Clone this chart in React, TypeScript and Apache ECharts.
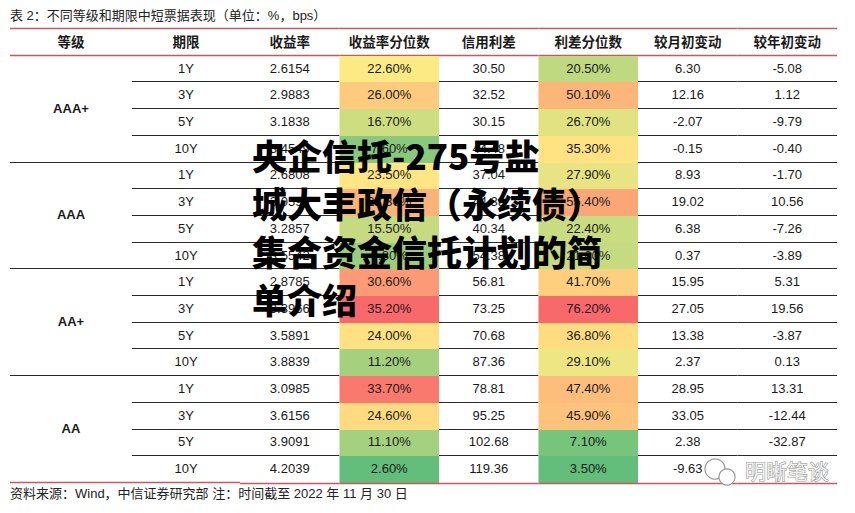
import React, { useEffect, useRef } from 'react';
import * as echarts from 'echarts';

const titleText = '表 2：不同等级和期限中短票据表现（单位：%，bps）';
const sourceText = '资料来源：Wind，中信证券研究部 注：时间截至 2022 年 11 月 30 日';
const overlayLines = ['央企信托-275号盐', '城大丰政信（永续债）', '集合资金信托计划的简', '单介绍'];
const logoText = '明晰笔谈';

const headers = ['等级', '期限', '收益率', '收益率分位数', '信用利差', '利差分位数', '较月初变动', '较年初变动'];
const ratings = ['AAA+', 'AAA', 'AA+', 'AA'];
const tenors = ['1Y', '3Y', '5Y', '10Y'];

const yields = [2.6154, 2.9883, 3.1838, 3.4549, 2.6808, 3.0599, 3.2857, 3.5542, 2.8785, 3.3966, 3.5891, 3.8839, 3.0985, 3.6156, 3.9091, 4.2039];
const yieldPct = [22.6, 26.0, 16.7, 7.6, 23.5, 28.3, 15.5, 9.8, 30.6, 35.2, 24.0, 11.2, 33.7, 24.6, 11.1, 2.6];
const spreads = [30.5, 32.52, 30.15, 44.48, 37.04, 44.33, 40.34, 54.38, 56.81, 73.25, 70.68, 87.36, 78.81, 95.25, 102.68, 119.36];
const spreadPct = [20.5, 50.1, 26.7, 35.3, 27.9, 55.4, 22.4, 21.6, 41.7, 76.2, 36.8, 29.1, 47.4, 45.9, 7.1, 3.5];
const momChange = [6.3, 12.16, -2.07, -0.15, 8.93, 19.02, 6.38, 0.37, 15.95, 27.05, 13.38, 2.37, 28.95, 33.05, 2.38, -9.63];
const ytdChange = [-5.08, 1.12, -9.79, -0.4, -1.7, 10.56, -7.26, -3.89, 5.31, 19.56, -3.87, 0.13, 13.31, -12.44, -32.87, -40.75];

const GREEN = [99, 190, 123];
const YELLOW = [255, 235, 132];
const RED = [248, 105, 107];
const LINE_RED = '#c35a5e';
const LINE_DARK = '#2a2a2a';
const TEXT = '#1a1a1a';
const FONT_NUM = "'Liberation Sans', Arial, 'Noto Sans CJK SC', sans-serif";
const FONT_CJK = "'Noto Sans CJK SC', 'Liberation Sans', sans-serif";

function median(arr: number[]) {
  const s = [...arr].sort((a, b) => a - b);
  const pos = (s.length - 1) * 0.5;
  const lo = Math.floor(pos);
  const hi = Math.ceil(pos);
  return s[lo] + (s[hi] - s[lo]) * (pos - lo);
}
function mix(a: number[], b: number[], t: number) {
  const c = a.map((v, i) => Math.round(v + (b[i] - v) * t));
  return `rgb(${c[0]},${c[1]},${c[2]})`;
}
function scaleColor(v: number, arr: number[]) {
  const min = Math.min(...arr);
  const max = Math.max(...arr);
  const mid = median(arr);
  if (v <= mid) return mix(GREEN, YELLOW, (v - min) / (mid - min));
  return mix(YELLOW, RED, (v - mid) / (max - mid));
}

const fmt = (n: number, d: number) => n.toFixed(d);
const colTexts: string[][] = [
  yields.map((v) => fmt(v, 4)),
  yieldPct.map((v) => fmt(v, 2) + '%'),
  spreads.map((v) => fmt(v, 2)),
  spreadPct.map((v) => fmt(v, 2) + '%'),
  momChange.map((v) => fmt(v, 2)),
  ytdChange.map((v) => fmt(v, 2)),
];
const colColors: (string | null)[][] = [
  yields.map(() => null),
  yieldPct.map((v) => scaleColor(v, yieldPct)),
  spreads.map(() => null),
  spreadPct.map((v) => scaleColor(v, spreadPct)),
  momChange.map(() => null),
  ytdChange.map(() => null),
];

const N_ROWS = 1 + ratings.length * tenors.length;
const rowCats = Array.from({ length: N_ROWS }, (_, i) => String(i));

function hLine(x1: number, x2: number, y: number, color: string, w = 1) {
  const yy = Math.round(y) + 0.5;
  return { type: 'line', shape: { x1, y1: yy, x2, y2: yy }, style: { stroke: color, lineWidth: w } };
}

export default function App() {
  const ref = useRef<HTMLDivElement>(null);
  useEffect(() => {
    if (!ref.current) return;
    const chart = echarts.init(ref.current, undefined, { renderer: 'svg' });
    const lastRow = N_ROWS - 1;

    const dataA: number[][] = [[0, 0, 0]];
    ratings.forEach((_, g) => dataA.push([0, 1 + g * 4, 4 + g * 4]));
    const dataB: number[][] = rowCats.map((_, r) => [0, r]);
    const dataC: number[][] = [];
    for (let c = 0; c < 6; c++) for (let r = 0; r < N_ROWS; r++) dataC.push([c, r]);

    const headerText = (text: string, x: number, y: number) => ({
      type: 'text',
      style: { text, x, y, align: 'center', verticalAlign: 'middle', fill: TEXT, font: `bold 13.5px ${FONT_CJK}` },
    });
    const cellText = (text: string, x: number, y: number, bold = false) => ({
      type: 'text',
      style: { text, x, y, align: 'center', verticalAlign: 'middle', fill: TEXT, font: `${bold ? 'bold ' : ''}13px ${FONT_NUM}` },
    });

    const option: any = {
      animation: false,
      backgroundColor: '#ffffff',
      grid: [
        { left: 10, top: 28, width: 122, height: 454 },
        { left: 132, top: 28, width: 108, height: 454 },
        { left: 240, top: 28, width: 597, height: 454 },
      ],
      xAxis: [
        { type: 'category', gridIndex: 0, data: [headers[0]], show: false },
        { type: 'category', gridIndex: 1, data: [headers[1]], show: false },
        { type: 'category', gridIndex: 2, data: headers.slice(2), show: false },
      ],
      yAxis: [0, 1, 2].map((i) => ({ type: 'category', gridIndex: i, data: rowCats, inverse: true, show: false })),
      series: [
        {
          type: 'custom',
          xAxisIndex: 0,
          yAxisIndex: 0,
          data: dataA,
          renderItem: (params: any, api: any) => {
            const r0 = api.value(1);
            const r1 = api.value(2);
            const p0 = api.coord([0, r0]);
            const p1 = api.coord([0, r1]);
            const [w, h] = api.size([1, 1]);
            const top = p0[1] - h / 2;
            const bottom = p1[1] + h / 2;
            const x0 = p0[0] - w / 2;
            const x1 = p0[0] + w / 2;
            const cy = (top + bottom) / 2;
            const children: any[] = [];
            if (r0 === 0) {
              children.push(hLine(x0, x1, top, LINE_RED, 1.3));
              children.push(hLine(x0, x1, bottom, LINE_RED, 1.3));
              children.push(headerText(headers[0], p0[0], cy));
            } else {
              children.push(hLine(x0, x1, bottom, r1 === lastRow ? LINE_RED : LINE_DARK, r1 === lastRow ? 1.3 : 1));
              children.push(cellText(ratings[(r0 - 1) / 4], p0[0], cy, true));
            }
            return { type: 'group', children };
          },
        },
        {
          type: 'custom',
          xAxisIndex: 1,
          yAxisIndex: 1,
          data: dataB,
          renderItem: (params: any, api: any) => {
            const r = api.value(1);
            const p = api.coord([0, r]);
            const [w, h] = api.size([1, 1]);
            const x0 = p[0] - w / 2;
            const x1 = p[0] + w / 2;
            const top = p[1] - h / 2;
            const bottom = p[1] + h / 2;
            const children: any[] = [];
            if (r === 0) {
              children.push(hLine(x0, x1, top, LINE_RED, 1.3));
              children.push(hLine(x0, x1, bottom, LINE_RED, 1.3));
              children.push(headerText(headers[1], p[0], p[1]));
            } else {
              children.push(hLine(x0, x1, bottom, r === lastRow ? LINE_RED : LINE_DARK, r === lastRow ? 1.3 : 1));
              children.push(cellText(tenors[(r - 1) % 4], p[0], p[1]));
            }
            return { type: 'group', children };
          },
        },
        {
          type: 'custom',
          xAxisIndex: 2,
          yAxisIndex: 2,
          data: dataC,
          renderItem: (params: any, api: any) => {
            const c = api.value(0);
            const r = api.value(1);
            const p = api.coord([c, r]);
            const [w, h] = api.size([1, 1]);
            const x0 = p[0] - w / 2;
            const x1 = p[0] + w / 2;
            const top = p[1] - h / 2;
            const bottom = p[1] + h / 2;
            const children: any[] = [];
            if (r === 0) {
              children.push(hLine(x0, x1, top, LINE_RED, 1.3));
              children.push(hLine(x0, x1, bottom, LINE_RED, 1.3));
              children.push(headerText(headers[c + 2], p[0], p[1]));
            } else {
              const fill = colColors[c][r - 1];
              if (fill) {
                children.push({ type: 'rect', shape: { x: x0, y: Math.round(top) + 1, width: w, height: Math.round(bottom) - Math.round(top) }, style: { fill } });
              }
              if (r === lastRow) children.push(hLine(x0, x1, bottom + 1, LINE_RED, 1.3));
              else if (!fill) children.push(hLine(x0, x1, bottom, LINE_DARK, 1));
              children.push(cellText(colTexts[c][r - 1], p[0], p[1]));
            }
            return { type: 'group', children };
          },
        },
      ],
      graphic: [
        {
          type: 'text',
          left: 10,
          top: 9,
          style: { text: titleText, fill: '#222', font: `13px ${FONT_NUM}` },
        },
        {
          type: 'text',
          left: 10,
          top: 487,
          style: { text: sourceText, fill: '#222', font: `13px ${FONT_NUM}` },
        },
        { type: 'rect', z: 100, shape: { x: 740, y: 458, width: 94, height: 23 }, style: { fill: '#ffffff' } },
        { type: 'circle', z: 100, shape: { cx: 715, cy: 469, r: 10 }, style: { fill: '#ffffff', stroke: '#9a9a9a', lineWidth: 1.2 } },
        { type: 'circle', z: 101, shape: { cx: 727, cy: 477, r: 8 }, style: { fill: '#ffffff', stroke: '#9a9a9a', lineWidth: 1.2 } },
        {
          type: 'text',
          z: 102,
          x: 745,
          y: 470,
          style: { text: logoText, fill: '#f2f2f2', stroke: '#8f8f8f', lineWidth: 1, font: `21px ${FONT_CJK}`, verticalAlign: 'middle' },
        },
        {
          type: 'text',
          z: 110,
          x: 252,
          y: 130,
          style: {
            text: overlayLines.join('\n'),
            fill: '#000000',
            font: `900 35px ${FONT_CJK}`,
            lineHeight: 48,
            verticalAlign: 'top',
          },
        },
      ],
    };
    chart.setOption(option);
    return () => chart.dispose();
  }, []);
  return <div ref={ref} style={{ position: 'fixed', left: 0, top: 0, width: 855, height: 513, background: '#fff' }} />;
}
